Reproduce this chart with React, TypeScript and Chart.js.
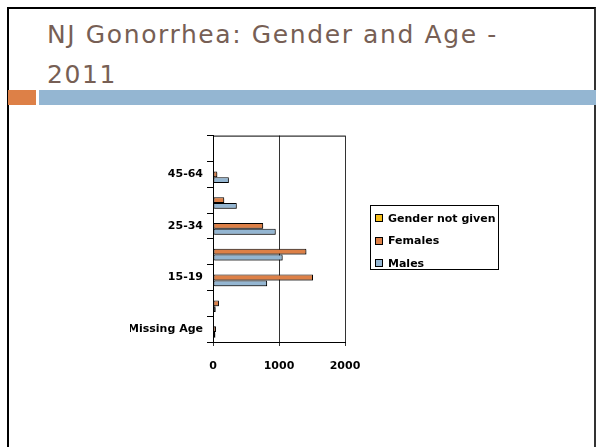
import React, { useEffect, useRef } from "react";
import { Chart, registerables } from "chart.js";

Chart.register(...registerables);

const ageGroups = ["Missing Age", "10-14", "15-19", "20-24", "25-34", "35-44", "45-64", "65+"];
const genderNotGiven = [0, 0, 0, 0, 0, 0, 0, 0];
const females = [45, 90, 1515, 1415, 760, 170, 65, 0];
const males = [35, 40, 820, 1055, 950, 360, 240, 0];
const xTicks = [0, 1000, 2000];

const seriesNames = ["Gender not given", "Females", "Males"];
const seriesColors = ["#F6BE1A", "#DD8047", "#94B6D2"];

const FONT = "'DejaVu Sans', sans-serif";

export default function App() {
  const canvasRef = useRef<HTMLCanvasElement | null>(null);

  useEffect(() => {
    const canvas = canvasRef.current;
    if (!canvas) return;
    const framePlugin = {
      id: "frameTop",
      afterDraw(chart: any) {
        const { ctx, chartArea } = chart;
        ctx.save();
        ctx.strokeStyle = "#000";
        ctx.lineWidth = 1;
        ctx.beginPath();
        ctx.moveTo(chartArea.left, chartArea.top + 0.5);
        ctx.lineTo(chartArea.right, chartArea.top + 0.5);
        ctx.stroke();
        ctx.restore();
      },
    };
    const shadowPlugin = {
      id: "barShadow",
      beforeDatasetsDraw(chart: any) {
        const ctx = chart.ctx;
        ctx.save();
        ctx.shadowColor = "rgba(0,0,0,0.35)";
        ctx.shadowOffsetX = 1.5;
        ctx.shadowOffsetY = 1.5;
        ctx.shadowBlur = 0;
      },
      afterDatasetsDraw(chart: any) {
        chart.ctx.restore();
      },
    };
    const seriesData = [genderNotGiven, females, males];
    const chart = new Chart(canvas, {
      type: "bar",
      data: {
        labels: ageGroups,
        datasets: seriesNames.map((name, i) => ({
          label: name,
          data: seriesData[i],
          backgroundColor: seriesColors[i],
          borderColor: "#000",
          borderWidth: 1,
          borderSkipped: false,
          categoryPercentage: 0.68,
          barPercentage: 1,
        })),
      },
      options: {
        indexAxis: "y",
        responsive: false,
        animation: false,
        layout: { padding: { top: 10, right: 35, left: 0, bottom: 0 } },
        plugins: { legend: { display: false }, tooltip: { enabled: false } },
        scales: {
          y: {
            reverse: true,
            afterFit(scale: any) {
              scale.width = 83;
            },
            grid: {
              offset: true,
              drawOnChartArea: false,
              drawTicks: true,
              tickLength: 6,
              color: "#000",
            },
            border: { display: true, color: "#000", width: 1 },
            ticks: {
              autoSkip: false,
              padding: 4,
              color: "#000",
              font: { family: FONT, size: 11, weight: "bold" },
              callback(this: any, value: any, index: number) {
                return index % 2 === 0 ? ageGroups[index] : "";
              },
            },
          },
          x: {
            min: xTicks[0],
            max: xTicks[xTicks.length - 1],
            afterFit(scale: any) {
              scale.height = 43;
            },
            afterBuildTicks(scale: any) {
              scale.ticks = xTicks.map((v) => ({ value: v }));
            },
            grid: { color: "#333", tickLength: 4, drawTicks: true },
            border: { display: true, color: "#000", width: 1 },
            ticks: {
              padding: 14,
              color: "#000",
              maxRotation: 0,
              font: { family: FONT, size: 11, weight: "bold" },
              callback(value: any) {
                return String(value);
              },
            },
          },
        },
      } as any,
      plugins: [framePlugin, shadowPlugin],
    });
    return () => chart.destroy();
  }, []);

  return (
    <div
      style={{
        position: "fixed",
        left: 0,
        top: 0,
        width: 596,
        height: 447,
        overflow: "hidden",
        background: "#fff",
      }}
    >
      <div
        style={{
          position: "absolute",
          left: 7,
          top: 7,
          width: 589,
          height: 480,
          boxSizing: "border-box",
          borderLeft: "2px solid #000",
          borderTop: "2px solid #000",
          borderRight: "2px solid #333",
        }}
      />
      <div
        style={{
          position: "absolute",
          left: 47,
          top: 15,
          fontFamily: FONT,
          fontSize: 25,
          letterSpacing: "1.6px",
          lineHeight: "40px",
          color: "#775F55",
          whiteSpace: "nowrap",
        }}
      >
        NJ Gonorrhea: Gender and Age -<br />
        2011
      </div>
      <div style={{ position: "absolute", left: 8, top: 90, width: 28, height: 15, background: "#DD8047" }} />
      <div style={{ position: "absolute", left: 39, top: 90, width: 557, height: 15, background: "#94B6D2" }} />
      <canvas
        ref={canvasRef}
        width={250}
        height={260}
        style={{ position: "absolute", left: 130, top: 125, width: 250, height: 260 }}
      />
      <div
        style={{
          position: "absolute",
          left: 370,
          top: 205,
          width: 129,
          height: 65,
          boxSizing: "border-box",
          border: "1px solid #000",
          fontFamily: FONT,
          fontSize: 11,
          fontWeight: "bold",
          color: "#000",
        }}
      >
        {seriesNames.map((name, i) => (
          <div
            key={name}
            style={{
              position: "absolute",
              left: 4,
              top: 5 + i * 22.5,
              height: 14,
              display: "flex",
              alignItems: "center",
              whiteSpace: "nowrap",
            }}
          >
            <span
              style={{
                display: "inline-block",
                width: 8,
                height: 8,
                boxSizing: "border-box",
                border: "1px solid #000",
                background: seriesColors[i],
                marginRight: 5,
              }}
            />
            {name}
          </div>
        ))}
      </div>
    </div>
  );
}
